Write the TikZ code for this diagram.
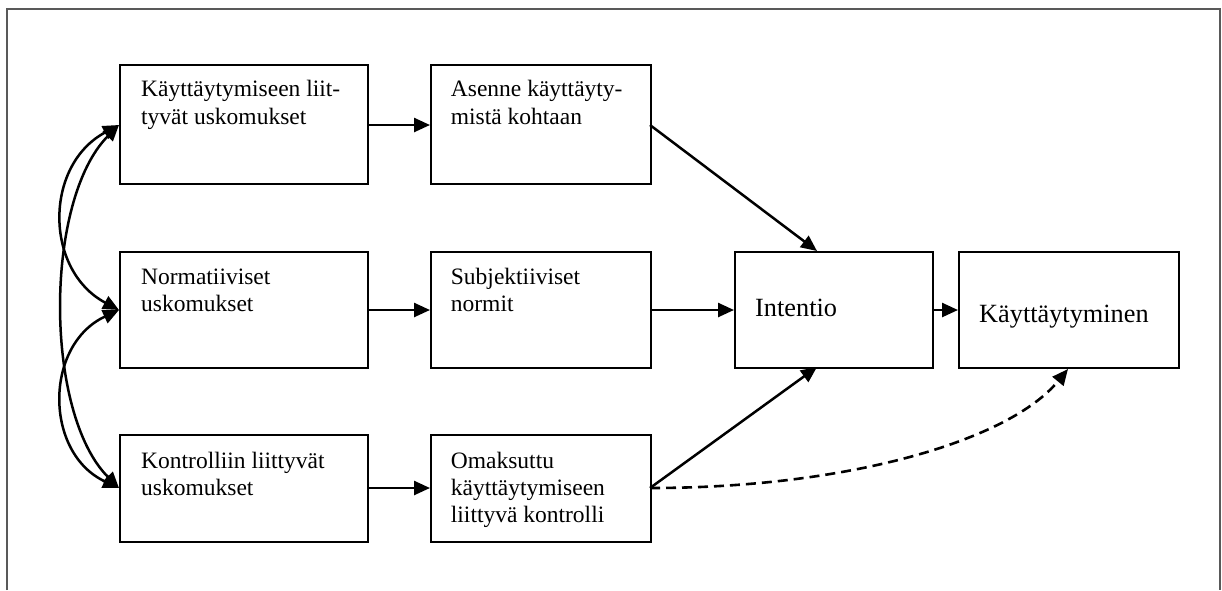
\documentclass[tikz,border=0pt]{standalone}
\usepackage{fontspec}
\setmainfont{Liberation Serif}
\usetikzlibrary{arrows.meta,calc}
\tikzset{
  box/.style={draw=black,line width=2.3pt,rectangle,inner sep=0pt,anchor=north west},
  txt/.style={inner sep=0pt,anchor=base west,font=\fontsize{23.5}{27.3}\selectfont},
  bigtxt/.style={inner sep=0pt,anchor=base west,font=\fontsize{26.3}{30}\selectfont},
  tip/.style={},
  arr/.style={line width=2.5pt,-{Triangle[length=16pt,width=14pt]}},
  darr/.style={line width=2.5pt,{Triangle[length=16pt,width=14pt]}-{Triangle[length=16pt,width=14pt]}},
  dsh/.style={line width=2.6pt,dash pattern=on 10pt off 6pt,-{Triangle[length=16pt,width=14pt]}},
  frame/.style={draw=black!65,line width=1.2pt}
}
\begin{document}
\begin{tikzpicture}[x=1pt,y=-1pt]
\useasboundingbox (0,0) rectangle (1222,590);
\draw[frame] (7,590) -- (7,9) -- (1220,9) -- (1220,590);
% boxes
\node[box,minimum width=248pt,minimum height=119pt] (a1) at (119,64) {};
\node[box,minimum width=220pt,minimum height=119pt] (a2) at (430,64) {};
\node[box,minimum width=248pt,minimum height=116pt] (b1) at (119,251) {};
\node[box,minimum width=220pt,minimum height=116pt] (b2) at (430,251) {};
\node[box,minimum width=248pt,minimum height=107pt] (c1) at (119,434) {};
\node[box,minimum width=220pt,minimum height=107pt] (c2) at (430,434) {};
\node[box,minimum width=198pt,minimum height=116pt] (in) at (734,251) {};
\node[box,minimum width=220pt,minimum height=116pt] (ka) at (958,251) {};
% texts
\node[txt] (ta1) at (141,96.7) {\parbox[t]{230pt}{Käyttäytymiseen liit-\\tyvät uskomukset}};
\node[txt] (ta2) at (450.7,96.7) {\parbox[t]{200pt}{Asenne käyttäyty-\\mistä kohtaan}};
\node[txt] (tb1) at (141,284) {\parbox[t]{230pt}{Normatiiviset\\uskomukset}};
\node[txt] (tb2) at (450.7,284) {\parbox[t]{200pt}{Subjektiiviset\\normit}};
\node[txt] (tc1) at (141,468) {\parbox[t]{230pt}{Kontrolliin liittyvät\\uskomukset}};
\node[txt] (tc2) at (450.7,468) {\parbox[t]{200pt}{Omaksuttu\\käyttäytymiseen\\liittyvä kontrolli}};
\node[bigtxt] (tin) at (755,316.7) {Intentio};
\node[bigtxt] (tka) at (979,322.7) {Käyttäytyminen};
% anchor coordinates
\coordinate (a1e) at (367,125);
\coordinate (a2w) at (430,125);
\coordinate (a2e) at (650,125);
\coordinate (b1e) at (367,310);
\coordinate (b2w) at (430,310);
\coordinate (b2e) at (650,310);
\coordinate (c1e) at (367,488);
\coordinate (c2w) at (430,488);
\coordinate (c2e) at (650,488);
\coordinate (inw) at (734,310);
\coordinate (ine) at (932,310);
\coordinate (inn) at (817,251);
\coordinate (ins) at (817,367);
\coordinate (kaw) at (958,310);
\coordinate (kas) at (1068,369);
\coordinate (a1w) at (119,125);
\coordinate (b1w) at (119,310);
\coordinate (c1w) at (119,488);
% arrows
\draw[arr] (a1e) -- (a2w);
\draw[arr] (b1e) -- (b2w);
\draw[arr] (c1e) -- (c2w);
\draw[arr] (b2e) -- (inw);
\draw[arr] (ine) -- (kaw);
\draw[arr] (a2e) -- (inn);
\draw[arr] (c2e) -- (ins);
\draw[dsh] (c2e) .. controls (850,488) and (1010,440) .. (kas);
% left curves
\draw[darr] (a1w) .. controls (44,165) and (44,270) .. (b1w);
\draw[darr] (a1w) .. controls (44,200) and (44,413) .. (c1w);
\draw[darr] (b1w) .. controls (44,345) and (44,453) .. (c1w);
\end{tikzpicture}
\end{document}
